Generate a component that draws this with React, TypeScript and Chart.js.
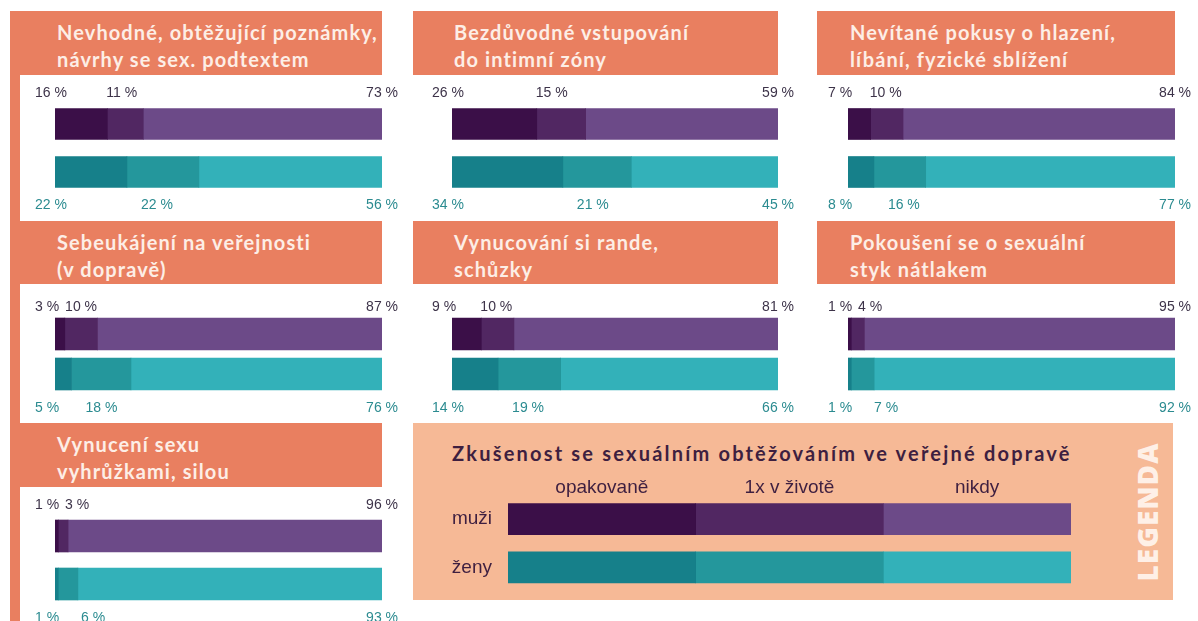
import React, { useEffect, useRef } from "react";
import { Chart, registerables } from "chart.js";

Chart.register(...registerables);

// ---------- DATA ----------
const panelTitles: string[][] = [
  ["Nevhodné, obtěžující poznámky,", "návrhy se sex. podtextem"],
  ["Bezdůvodné vstupování", "do intimní zóny"],
  ["Nevítané pokusy o hlazení,", "líbání, fyzické sblížení"],
  ["Sebeukájení na veřejnosti", "(v dopravě)"],
  ["Vynucování si rande,", "schůzky"],
  ["Pokoušení se o sexuální", "styk nátlakem"],
  ["Vynucení sexu", "vyhrůžkami, silou"],
];
const groups = ["muži", "ženy"];
const levels = ["opakovaně", "1x v životě", "nikdy"];

const menRepeated = [16, 26, 7, 3, 9, 1, 1];
const menOnce = [11, 15, 10, 10, 10, 4, 3];
const menNever = [73, 59, 84, 87, 81, 95, 96];
const womenRepeated = [22, 34, 8, 5, 14, 1, 1];
const womenOnce = [22, 21, 16, 18, 19, 7, 6];
const womenNever = [56, 45, 77, 76, 66, 92, 93];

const legendTitle = "Zkušenost se sexuálním obtěžováním ve veřejné dopravě";
const legendShares = [1, 1, 1];
const legendWord = "LEGENDA";

// ---------- STYLE ----------
const MEN_COLORS = ["#3b0f48", "#512762", "#6c4a88"];
const WOMEN_COLORS = ["#16808a", "#24979c", "#33b1b9"];
const HEADER_BG = "#e97f60";
const HEADER_TEXT = "#fdeee6";
const LEGEND_BG = "#f6b996";
const TOP_LABEL = "#3d3349";
const BOTTOM_LABEL = "#2b8b90";
const LEGEND_TEXT = "#3e1f40";
const HEAD_FONT = "'Lato', 'Open Sans', sans-serif";
const PCT_FONT = "14px 'Liberation Sans', Arial, sans-serif";

const COLS = [
  { headX0: 10, barX0: 55, barX1: 382 },
  { headX0: 413, barX0: 452, barX1: 778 },
  { headX0: 817, barX0: 848, barX1: 1175 },
];
const ROWS = [
  { headY0: 11, headY1: 75, areaTop: 100, areaBottom: 196, canvasBottom: 218, thickness: 31, topGap: 15 },
  { headY0: 221, headY1: 284, areaTop: 314, areaBottom: 394, canvasBottom: 420, thickness: 32, topGap: 11 },
  { headY0: 423, headY1: 487, areaTop: 512, areaBottom: 608, canvasBottom: 621, thickness: 32, topGap: 15 },
];
const PAD_L = 30;
const PAD_R = 22;

const normalize = (arr: number[]) => {
  const s = arr.reduce((a, b) => a + b, 0);
  return arr.map((v) => (v * 100) / s);
};

const pctLabelPlugin = {
  id: "pctLabels",
  afterDatasetsDraw(chart: any, _args: any, opts: any) {
    const { ctx, chartArea } = chart;
    const metas = chart.getSortedVisibleDatasetMetas();
    ctx.save();
    ctx.font = PCT_FONT;
    ctx.textBaseline = "middle";
    [0, 1].forEach((b) => {
      const els = metas.map((m: any) => m.data[b]);
      const raws = metas.map((m: any) => chart.data.datasets[m.index].raw[b]);
      const e0 = els[0];
      const top = e0.y - e0.height / 2;
      const bottom = e0.y + e0.height / 2;
      const y = b === 0 ? top - opts.topGap : bottom + opts.bottomGap;
      ctx.fillStyle = b === 0 ? TOP_LABEL : BOTTOM_LABEL;
      ctx.textAlign = "left";
      const t0 = raws[0] + " %";
      const x0 = chartArea.left - 20;
      ctx.fillText(t0, x0, y);
      const end0 = x0 + ctx.measureText(t0).width;
      const boundary = e0.x;
      const x1 = b === 0 ? Math.max(boundary - 1, end0 + 6) : Math.max(boundary + 14, end0 + 22);
      ctx.fillText(raws[1] + " %", x1, y);
      ctx.textAlign = "right";
      ctx.fillText(raws[2] + " %", chartArea.right + 16, y);
    });
    ctx.restore();
  },
};

const legendLabelPlugin = {
  id: "legendCols",
  afterDatasetsDraw(chart: any) {
    const { ctx } = chart;
    const metas = chart.getSortedVisibleDatasetMetas();
    ctx.save();
    ctx.font = "19px 'Liberation Sans', Arial, sans-serif";
    ctx.fillStyle = LEGEND_TEXT;
    ctx.textAlign = "center";
    ctx.textBaseline = "middle";
    metas.forEach((m: any) => {
      const el = m.data[0];
      const cx = (el.x + el.base) / 2;
      const y = el.y - el.height / 2 - 16;
      ctx.fillText(chart.data.datasets[m.index].label, cx, y);
    });
    ctx.restore();
  },
};

function Panel({ idx }: { idx: number }) {
  const ref = useRef<HTMLCanvasElement>(null);
  const col = COLS[idx % 3];
  const row = ROWS[Math.floor(idx / 3)];
  const left = col.barX0 - PAD_L;
  const width = col.barX1 + PAD_R - left;
  const top = row.headY1;
  const height = row.canvasBottom - top;

  useEffect(() => {
    const men = [menRepeated[idx], menOnce[idx], menNever[idx]];
    const women = [womenRepeated[idx], womenOnce[idx], womenNever[idx]];
    const nm = normalize(men);
    const nw = normalize(women);
    const chart = new Chart(ref.current as HTMLCanvasElement, {
      type: "bar",
      data: {
        labels: groups,
        datasets: levels.map((lvl, k) => ({
          label: lvl,
          data: [nm[k], nw[k]],
          raw: [men[k], women[k]],
          backgroundColor: [MEN_COLORS[k], WOMEN_COLORS[k]],
          borderWidth: 0,
          barThickness: row.thickness,
        })) as any,
      },
      options: {
        indexAxis: "y",
        animation: false,
        responsive: false,
        maintainAspectRatio: false,
        events: [],
        layout: {
          padding: {
            left: PAD_L,
            right: PAD_R,
            top: row.areaTop - top,
            bottom: row.canvasBottom - row.areaBottom,
          },
        },
        scales: {
          x: { stacked: true, min: 0, max: 100, display: false },
          y: { stacked: true, display: false },
        },
        plugins: {
          legend: { display: false },
          tooltip: { enabled: false },
          pctLabels: { topGap: row.topGap, bottomGap: 18 },
        } as any,
      },
      plugins: [pctLabelPlugin],
    });
    return () => chart.destroy();
  }, [idx]);

  return (
    <>
      <div
        style={{
          position: "absolute",
          left: col.headX0,
          top: row.headY0,
          width: col.barX1 - col.headX0,
          height: row.headY1 - row.headY0,
          background: HEADER_BG,
        }}
      >
        <div
          style={{
            position: "absolute",
            left: col.barX0 - col.headX0 + 2,
            top: 8,
            fontFamily: HEAD_FONT,
            fontWeight: 700,
            fontSize: 20,
            letterSpacing: "1.1px",
            lineHeight: "27px",
            color: HEADER_TEXT,
            whiteSpace: "nowrap",
          }}
        >
          {panelTitles[idx].map((l, i) => (
            <div key={i}>{l}</div>
          ))}
        </div>
      </div>
      <canvas
        ref={ref}
        width={width}
        height={height}
        style={{ position: "absolute", left, top, width, height, display: "block" }}
      />
    </>
  );
}

function LegendBox() {
  const ref = useRef<HTMLCanvasElement>(null);
  const L = 413, T = 423, W = 760, H = 177;
  const CH = H + 19; // canvas reaches a little below the box to leave room for the axis padding
  useEffect(() => {
    const chart = new Chart(ref.current as HTMLCanvasElement, {
      type: "bar",
      data: {
        labels: groups,
        datasets: levels.map((lvl, k) => ({
          label: lvl,
          data: [legendShares[k], legendShares[k]],
          backgroundColor: [MEN_COLORS[k], WOMEN_COLORS[k]],
          borderWidth: 0,
          barThickness: 31,
        })),
      },
      options: {
        indexAxis: "y",
        animation: false,
        responsive: false,
        maintainAspectRatio: false,
        events: [],
        layout: { padding: { left: 37, right: 102, top: 72, bottom: 27 } },
        scales: {
          x: {
            stacked: true,
            min: 0,
            max: legendShares.reduce((a, b) => a + b, 0),
            display: false,
          },
          y: {
            stacked: true,
            grid: { display: false, drawTicks: false },
            border: { display: false },
            ticks: {
              padding: 16,
              color: LEGEND_TEXT,
              font: { family: "'Liberation Sans', Arial, sans-serif", size: 19 },
            },
            afterFit: (s: any) => {
              s.width = 58;
            },
          },
        },
        plugins: { legend: { display: false }, tooltip: { enabled: false } },
      },
      plugins: [legendLabelPlugin],
    });
    return () => chart.destroy();
  }, []);
  return (
    <>
      <div style={{ position: "absolute", left: L, top: T, width: W, height: H, background: LEGEND_BG }}>
        <div
          style={{
            position: "absolute",
            left: 452 - L,
            top: 453 - T - 13,
            height: 26,
            lineHeight: "26px",
            fontFamily: HEAD_FONT,
            fontWeight: 700,
            fontSize: 20,
            letterSpacing: "2.2px",
            color: LEGEND_TEXT,
            whiteSpace: "nowrap",
          }}
        >
          {legendTitle}
        </div>
        <div
          style={{
            position: "absolute",
            left: 1147 - L - 80,
            top: 512 - T - 18,
            width: 160,
            height: 36,
            lineHeight: "36px",
            textAlign: "center",
            transform: "rotate(-90deg)",
            fontFamily: "'Open Sans', sans-serif",
            fontWeight: 800,
            fontSize: 28,
            letterSpacing: "1px",
            color: "rgba(255,246,240,0.92)",
          }}
        >
          {legendWord}
        </div>
      </div>
      <canvas
        ref={ref}
        width={W}
        height={CH}
        style={{ position: "absolute", left: L, top: T, width: W, height: CH }}
      />
    </>
  );
}

export default function App() {
  return (
    <div
      style={{
        position: "absolute",
        left: 0,
        top: 0,
        width: 1198,
        height: 621,
        overflow: "hidden",
        background: "#ffffff",
      }}
    >
      <div style={{ position: "absolute", left: 10, top: 11, width: 10, height: 610, background: HEADER_BG }} />
      {panelTitles.map((_, i) => (
        <Panel key={i} idx={i} />
      ))}
      <LegendBox />
    </div>
  );
}
